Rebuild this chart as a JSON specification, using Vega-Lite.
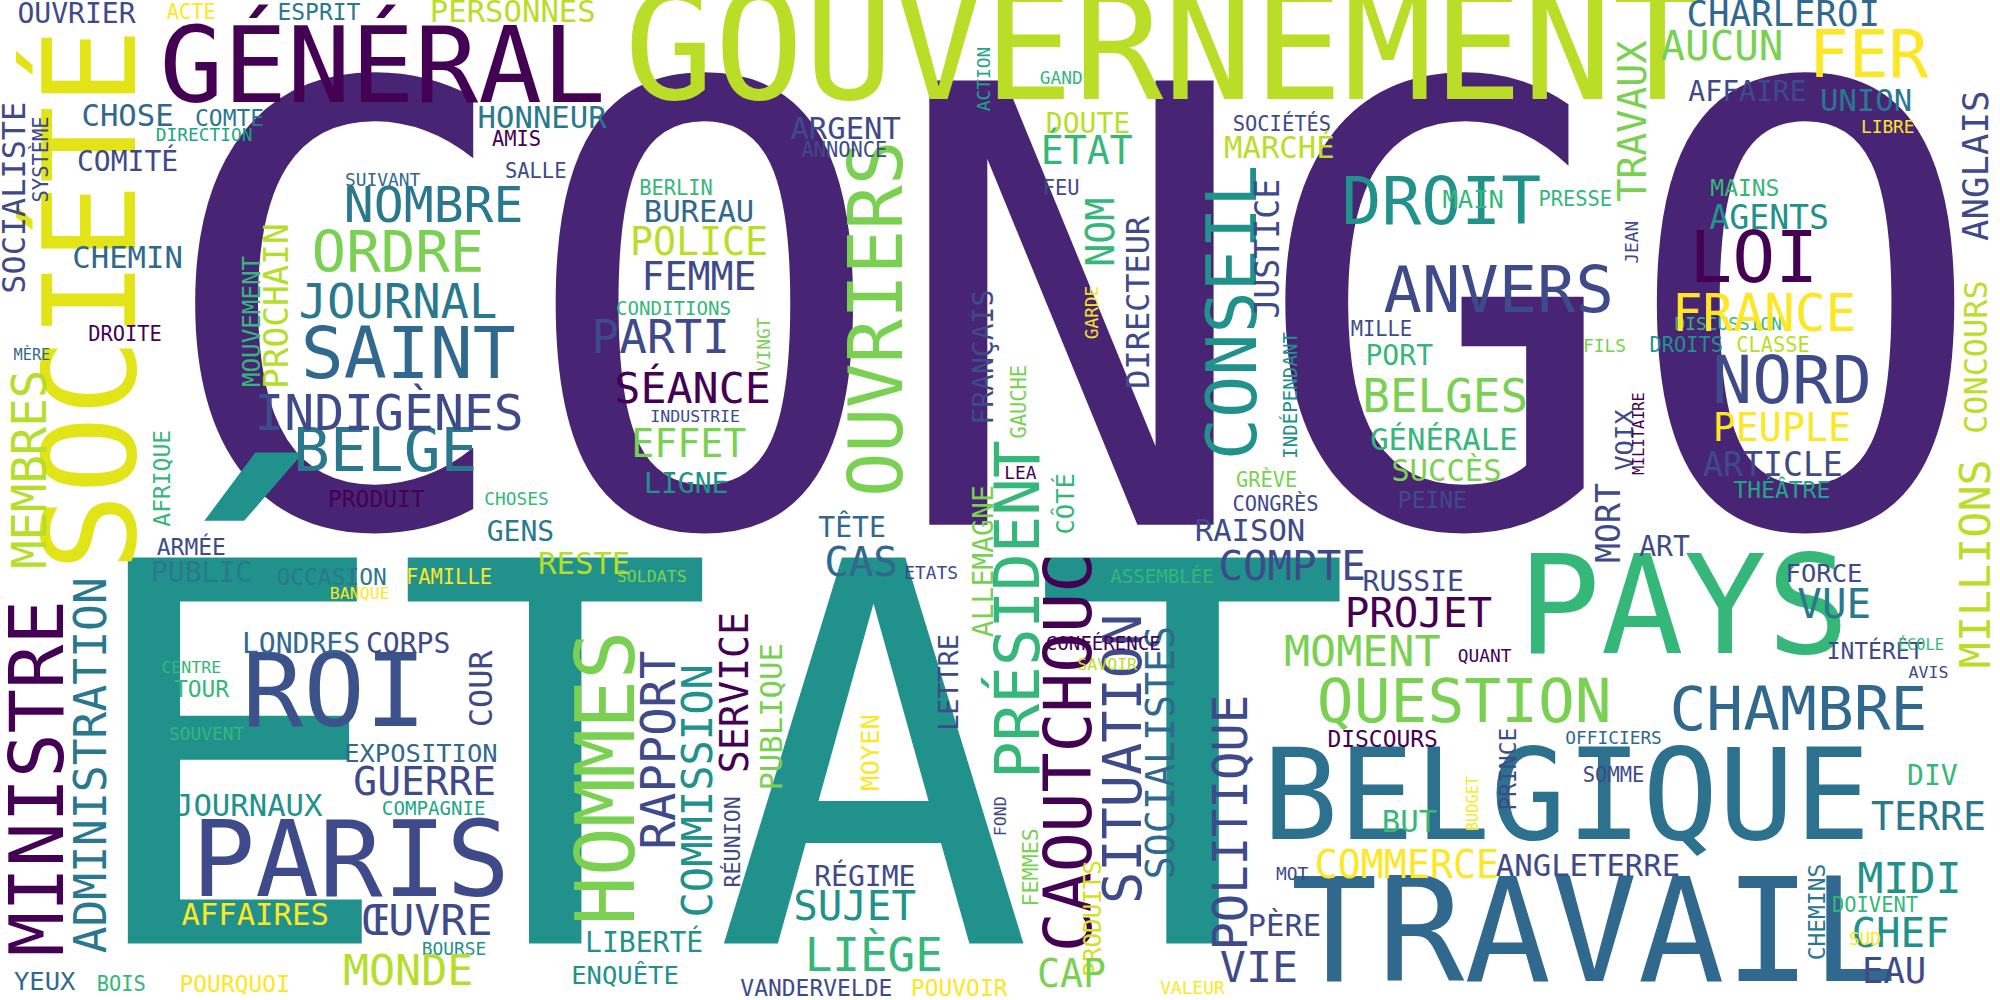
{
  "$schema": "https://vega.github.io/schema/vega-lite/v6.json",
  "width": 2000,
  "height": 1000,
  "autosize": "none",
  "padding": 0,
  "background": "white",
  "config": {"view": {"stroke": null}},
  "data": {
    "values": [
      {"w": "CONGO", "x": 840, "y": 268, "s": 478, "a": 0, "c": "#482475"},
      {"w": "ÉTAT", "x": 560, "y": 615, "s": 415, "a": 0, "c": "#21918c"},
      {"w": "GOUVERNEMENT", "x": 912, "y": 42, "s": 117, "a": 0, "c": "#bade28"},
      {"w": "GÉNÉRAL", "x": 300, "y": 55, "s": 83, "a": 0, "c": "#440154"},
      {"w": "SOCIÉTÉ", "x": 75, "y": 235, "s": 101, "a": 270, "c": "#e2e418"},
      {"w": "PAYS", "x": 1320, "y": 480, "s": 108, "a": 0, "c": "#35b779"},
      {"w": "TRAVAIL", "x": 1250, "y": 735, "s": 113, "a": 0, "c": "#31688e"},
      {"w": "BELGIQUE", "x": 1228, "y": 628, "s": 99, "a": 0, "c": "#2c728e"},
      {"w": "ROI", "x": 262, "y": 545, "s": 80, "a": 0, "c": "#3b528b"},
      {"w": "PARIS", "x": 275, "y": 677, "s": 83, "a": 0, "c": "#3e4a89"},
      {"w": "MINISTRE", "x": 32, "y": 610, "s": 58, "a": 270, "c": "#440154"},
      {"w": "ADMINISTRATION", "x": 73, "y": 600, "s": 35, "a": 270, "c": "#2a788e"},
      {"w": "SAINT", "x": 320, "y": 280, "s": 56, "a": 0, "c": "#31688e"},
      {"w": "BELGE", "x": 302, "y": 355, "s": 48, "a": 0, "c": "#2a788e"},
      {"w": "ORDRE", "x": 312, "y": 200, "s": 45, "a": 0, "c": "#7ad151"},
      {"w": "INDIGÈNES", "x": 305, "y": 325, "s": 39, "a": 0, "c": "#3e4a89"},
      {"w": "JOURNAL", "x": 312, "y": 238, "s": 37, "a": 0, "c": "#2a788e"},
      {"w": "NOMBRE", "x": 340, "y": 162, "s": 39, "a": 0, "c": "#2a788e"},
      {"w": "HONNEUR", "x": 425, "y": 93, "s": 24, "a": 0, "c": "#2a788e"},
      {"w": "AMIS", "x": 405, "y": 110, "s": 16, "a": 0, "c": "#440154"},
      {"w": "SALLE", "x": 420, "y": 135, "s": 16, "a": 0, "c": "#3e4a89"},
      {"w": "SUIVANT", "x": 300, "y": 142, "s": 14, "a": 0, "c": "#31688e"},
      {"w": "PROCHAIN", "x": 218, "y": 240, "s": 27, "a": 270, "c": "#b5de2b"},
      {"w": "MOUVEMENT", "x": 198, "y": 252, "s": 19, "a": 270, "c": "#35b779"},
      {"w": "CHOSE", "x": 100, "y": 92, "s": 24, "a": 0, "c": "#31688e"},
      {"w": "COMTE", "x": 180, "y": 93, "s": 18, "a": 0, "c": "#2a788e"},
      {"w": "DIRECTION", "x": 160, "y": 107, "s": 14, "a": 0, "c": "#21a685"},
      {"w": "COMITÉ", "x": 100, "y": 128, "s": 22, "a": 0, "c": "#3e4a89"},
      {"w": "SOCIALISTE", "x": 12, "y": 155, "s": 25, "a": 270, "c": "#3e4a89"},
      {"w": "SYSTÈME", "x": 33, "y": 125, "s": 16, "a": 270, "c": "#3e4a89"},
      {"w": "OUVRIER", "x": 60, "y": 12, "s": 22, "a": 0, "c": "#3e4a89"},
      {"w": "ACTE", "x": 150, "y": 10, "s": 16, "a": 0, "c": "#fde725"},
      {"w": "ESPRIT", "x": 250, "y": 10, "s": 18, "a": 0, "c": "#2a788e"},
      {"w": "PERSONNES", "x": 402, "y": 10, "s": 24, "a": 0, "c": "#bade28"},
      {"w": "CHEMIN", "x": 100, "y": 203, "s": 24, "a": 0, "c": "#31688e"},
      {"w": "DROITE", "x": 98, "y": 263, "s": 16, "a": 0, "c": "#440154"},
      {"w": "MÈRE", "x": 25, "y": 278, "s": 12, "a": 0, "c": "#31688e"},
      {"w": "MEMBRES", "x": 25, "y": 368, "s": 37, "a": 270, "c": "#b5de2b"},
      {"w": "AFRIQUE", "x": 128, "y": 375, "s": 18, "a": 270, "c": "#35b779"},
      {"w": "PRODUIT", "x": 295, "y": 392, "s": 18, "a": 0, "c": "#440154"},
      {"w": "CHOSES", "x": 405, "y": 392, "s": 14, "a": 0, "c": "#35b779"},
      {"w": "ARMÉE", "x": 150, "y": 430, "s": 18, "a": 0, "c": "#3e4a89"},
      {"w": "GENS", "x": 408, "y": 418, "s": 22, "a": 0, "c": "#2a788e"},
      {"w": "RESTE", "x": 458, "y": 443, "s": 24, "a": 0, "c": "#b5de2b"},
      {"w": "PUBLIC", "x": 158, "y": 450, "s": 22, "a": 0, "c": "#2a788e"},
      {"w": "OCCASION", "x": 260, "y": 453, "s": 18, "a": 0, "c": "#2a788e"},
      {"w": "FAMILLE", "x": 352, "y": 453, "s": 16, "a": 0, "c": "#fde725"},
      {"w": "BANQUE", "x": 282, "y": 466, "s": 13, "a": 0, "c": "#fde725"},
      {"w": "LONDRES", "x": 236, "y": 506, "s": 22, "a": 0, "c": "#31688e"},
      {"w": "CORPS", "x": 320, "y": 506, "s": 22, "a": 0, "c": "#3e4a89"},
      {"w": "CENTRE", "x": 150, "y": 524, "s": 13, "a": 0, "c": "#35b779"},
      {"w": "TOUR", "x": 158, "y": 541, "s": 18, "a": 0, "c": "#35b779"},
      {"w": "COUR", "x": 378, "y": 540, "s": 25, "a": 270, "c": "#3e4a89"},
      {"w": "SOUVENT", "x": 162, "y": 576, "s": 14, "a": 0, "c": "#35b779"},
      {"w": "EXPOSITION", "x": 330, "y": 591, "s": 20, "a": 0, "c": "#31688e"},
      {"w": "GUERRE", "x": 333, "y": 614, "s": 31, "a": 0, "c": "#3e4a89"},
      {"w": "COMPAGNIE", "x": 340, "y": 634, "s": 15, "a": 0, "c": "#21a685"},
      {"w": "JOURNAUX", "x": 195, "y": 633, "s": 24, "a": 0, "c": "#21918c"},
      {"w": "AFFAIRES", "x": 200, "y": 718, "s": 24, "a": 0, "c": "#fde725"},
      {"w": "ŒUVRE", "x": 335, "y": 723, "s": 34, "a": 0, "c": "#3e4a89"},
      {"w": "BOURSE", "x": 356, "y": 745, "s": 14, "a": 0, "c": "#21918c"},
      {"w": "MONDE", "x": 320, "y": 762, "s": 34, "a": 0, "c": "#b5de2b"},
      {"w": "YEUX", "x": 35, "y": 770, "s": 20, "a": 0, "c": "#31688e"},
      {"w": "BOIS", "x": 95, "y": 772, "s": 16, "a": 0, "c": "#35b779"},
      {"w": "POURQUOI", "x": 184, "y": 772, "s": 18, "a": 0, "c": "#fde725"},
      {"w": "HOMMES", "x": 478, "y": 610, "s": 64, "a": 270, "c": "#7ad151"},
      {"w": "RAPPORT", "x": 518, "y": 588, "s": 37, "a": 270, "c": "#3e4a89"},
      {"w": "COMMISSION", "x": 548, "y": 620, "s": 33, "a": 270, "c": "#21918c"},
      {"w": "SERVICE", "x": 578, "y": 543, "s": 30, "a": 270, "c": "#440154"},
      {"w": "PUBLIQUE", "x": 606, "y": 562, "s": 24, "a": 270, "c": "#7ad151"},
      {"w": "RÉUNION", "x": 575, "y": 660, "s": 17, "a": 270, "c": "#3e4a89"},
      {"w": "LIBERTÉ", "x": 505, "y": 740, "s": 22, "a": 0, "c": "#21918c"},
      {"w": "ENQUÊTE", "x": 490, "y": 765, "s": 20, "a": 0, "c": "#21918c"},
      {"w": "VANDERVELDE", "x": 640, "y": 775, "s": 18, "a": 0, "c": "#3e4a89"},
      {"w": "POUVOIR", "x": 752, "y": 775, "s": 18, "a": 0, "c": "#fde725"},
      {"w": "LIÈGE", "x": 685, "y": 750, "s": 36, "a": 0, "c": "#35b779"},
      {"w": "SUJET", "x": 670, "y": 712, "s": 32, "a": 0, "c": "#21918c"},
      {"w": "RÉGIME", "x": 678, "y": 688, "s": 22, "a": 0, "c": "#3e4a89"},
      {"w": "MOYEN", "x": 683, "y": 590, "s": 20, "a": 270, "c": "#fde725"},
      {"w": "LETTRE", "x": 745, "y": 535, "s": 21, "a": 270, "c": "#3e4a89"},
      {"w": "CAS", "x": 675, "y": 442, "s": 32, "a": 0, "c": "#31688e"},
      {"w": "TÊTE", "x": 668, "y": 415, "s": 22, "a": 0, "c": "#31688e"},
      {"w": "ETATS", "x": 730, "y": 450, "s": 14, "a": 0, "c": "#3e4a89"},
      {"w": "ALLEMAGNE", "x": 772, "y": 440, "s": 22, "a": 270, "c": "#7ad151"},
      {"w": "FRANÇAIS", "x": 772, "y": 280, "s": 22, "a": 270, "c": "#3e4a89"},
      {"w": "PRÉSIDENT", "x": 800, "y": 478, "s": 49, "a": 270, "c": "#35b779"},
      {"w": "CAOUTCHOUC", "x": 840, "y": 590, "s": 52, "a": 270, "c": "#440154"},
      {"w": "SITUATION", "x": 882, "y": 595, "s": 42, "a": 270, "c": "#3e4a89"},
      {"w": "SOCIALISTES", "x": 912, "y": 590, "s": 30, "a": 270, "c": "#31688e"},
      {"w": "FEMMES", "x": 808, "y": 680, "s": 17, "a": 270, "c": "#7ad151"},
      {"w": "PRODUITS", "x": 858, "y": 720, "s": 19, "a": 270, "c": "#d2e21b"},
      {"w": "FOND", "x": 785, "y": 640, "s": 13, "a": 270, "c": "#3e4a89"},
      {"w": "CAP", "x": 840, "y": 765, "s": 30, "a": 0, "c": "#7ad151"},
      {"w": "VALEUR", "x": 935, "y": 775, "s": 14, "a": 0, "c": "#fde725"},
      {"w": "CÔTÉ", "x": 836, "y": 395, "s": 20, "a": 270, "c": "#35b779"},
      {"w": "GAUCHE", "x": 800, "y": 315, "s": 16, "a": 270, "c": "#7ad151"},
      {"w": "LEA", "x": 800, "y": 372, "s": 14, "a": 0, "c": "#440154"},
      {"w": "GARDE", "x": 857, "y": 245, "s": 14, "a": 270, "c": "#fde725"},
      {"w": "DIRECTEUR", "x": 893, "y": 237, "s": 25, "a": 270, "c": "#3e4a89"},
      {"w": "NOM", "x": 865, "y": 182, "s": 30, "a": 270, "c": "#35b779"},
      {"w": "DOUTE", "x": 853, "y": 98, "s": 22, "a": 0, "c": "#bade28"},
      {"w": "ÉTAT", "x": 852, "y": 120, "s": 30, "a": 0, "c": "#35b779"},
      {"w": "FEU", "x": 832, "y": 148, "s": 16, "a": 0, "c": "#3e4a89"},
      {"w": "ACTION", "x": 772, "y": 62, "s": 14, "a": 270, "c": "#21a685"},
      {"w": "GAND", "x": 832, "y": 62, "s": 14, "a": 0, "c": "#35b779"},
      {"w": "OUVRIERS", "x": 690, "y": 250, "s": 58, "a": 270, "c": "#7ad151"},
      {"w": "ARGENT", "x": 663, "y": 102, "s": 24, "a": 0, "c": "#3e4a89"},
      {"w": "ANNONCE", "x": 662, "y": 118, "s": 16, "a": 0, "c": "#3e4a89"},
      {"w": "BERLIN", "x": 530, "y": 148, "s": 16, "a": 0, "c": "#35b779"},
      {"w": "BUREAU", "x": 548, "y": 167, "s": 24, "a": 0, "c": "#31688e"},
      {"w": "POLICE", "x": 548, "y": 191, "s": 30, "a": 0, "c": "#bade28"},
      {"w": "FEMME", "x": 548, "y": 219, "s": 30, "a": 0, "c": "#3e4a89"},
      {"w": "CONDITIONS", "x": 528, "y": 242, "s": 15, "a": 0, "c": "#35b779"},
      {"w": "VINGT", "x": 600, "y": 270, "s": 14, "a": 270, "c": "#7ad151"},
      {"w": "PARTI", "x": 518, "y": 266, "s": 36, "a": 0, "c": "#3e4a89"},
      {"w": "SÉANCE", "x": 543, "y": 306, "s": 34, "a": 0, "c": "#440154"},
      {"w": "INDUSTRIE", "x": 545, "y": 327, "s": 13, "a": 0, "c": "#3e4a89"},
      {"w": "EFFET", "x": 540, "y": 350, "s": 30, "a": 0, "c": "#7ad151"},
      {"w": "LIGNE", "x": 538, "y": 380, "s": 22, "a": 0, "c": "#21918c"},
      {"w": "CONSEIL", "x": 968, "y": 245, "s": 55, "a": 270, "c": "#21918c"},
      {"w": "JUSTICE", "x": 995, "y": 195, "s": 26, "a": 270, "c": "#3e4a89"},
      {"w": "INDÉPENDANT", "x": 1012, "y": 310, "s": 15, "a": 270, "c": "#21918c"},
      {"w": "CONGRÈS", "x": 1000, "y": 396, "s": 16, "a": 0, "c": "#3e4a89"},
      {"w": "GRÈVE", "x": 993, "y": 377, "s": 16, "a": 0, "c": "#7ad151"},
      {"w": "RAISON", "x": 980, "y": 417, "s": 24, "a": 0, "c": "#3e4a89"},
      {"w": "COMPTE", "x": 1013, "y": 445, "s": 32, "a": 0, "c": "#3e4a89"},
      {"w": "ASSEMBLÉE", "x": 911, "y": 452, "s": 15, "a": 0, "c": "#35b779"},
      {"w": "SOLDATS", "x": 511, "y": 452, "s": 13, "a": 0, "c": "#7ad151"},
      {"w": "DROIT", "x": 1130, "y": 160, "s": 52, "a": 0, "c": "#21918c"},
      {"w": "ANVERS", "x": 1175, "y": 230, "s": 50, "a": 0, "c": "#3e4a89"},
      {"w": "SOCIÉTÉS", "x": 1005, "y": 98, "s": 16, "a": 0, "c": "#3e4a89"},
      {"w": "MARCHÉ", "x": 1003, "y": 117, "s": 24, "a": 0, "c": "#bade28"},
      {"w": "MAIN", "x": 1155, "y": 157, "s": 20, "a": 0, "c": "#35b779"},
      {"w": "PRESSE", "x": 1235, "y": 157, "s": 16, "a": 0, "c": "#35b779"},
      {"w": "MILLE", "x": 1083, "y": 259, "s": 16, "a": 0, "c": "#3e4a89"},
      {"w": "PORT", "x": 1097, "y": 280, "s": 22, "a": 0, "c": "#35b779"},
      {"w": "BELGES", "x": 1133, "y": 312, "s": 36, "a": 0, "c": "#7ad151"},
      {"w": "GÉNÉRALE", "x": 1132, "y": 346, "s": 24, "a": 0, "c": "#35b779"},
      {"w": "SUCCÈS", "x": 1134, "y": 370, "s": 24, "a": 0, "c": "#7ad151"},
      {"w": "PEINE", "x": 1123, "y": 393, "s": 18, "a": 0, "c": "#3e4a89"},
      {"w": "MORT", "x": 1262, "y": 410, "s": 26, "a": 270, "c": "#3e4a89"},
      {"w": "VOIX", "x": 1274, "y": 345, "s": 20, "a": 270, "c": "#3e4a89"},
      {"w": "MILITAIRE", "x": 1285, "y": 340, "s": 12, "a": 270, "c": "#440154"},
      {"w": "JEAN", "x": 1280, "y": 190, "s": 14, "a": 270, "c": "#3e4a89"},
      {"w": "LOI", "x": 1375, "y": 205, "s": 56, "a": 0, "c": "#440154"},
      {"w": "AGENTS", "x": 1387, "y": 172, "s": 26, "a": 0, "c": "#21918c"},
      {"w": "MAINS", "x": 1368, "y": 148, "s": 18, "a": 0, "c": "#35b779"},
      {"w": "DISCUSSION", "x": 1355, "y": 255, "s": 14, "a": 0, "c": "#35b779"},
      {"w": "FRANCE", "x": 1383, "y": 248, "s": 40, "a": 0, "c": "#fde725"},
      {"w": "NORD", "x": 1405, "y": 300, "s": 52, "a": 0, "c": "#3e4a89"},
      {"w": "PEUPLE", "x": 1397, "y": 337, "s": 30, "a": 0, "c": "#fde725"},
      {"w": "ARTICLE", "x": 1390, "y": 365, "s": 26, "a": 0, "c": "#3e4a89"},
      {"w": "THÉÂTRE", "x": 1397, "y": 385, "s": 18, "a": 0, "c": "#21a685"},
      {"w": "DROITS", "x": 1322, "y": 271, "s": 16, "a": 0, "c": "#21918c"},
      {"w": "CLASSE", "x": 1390, "y": 271, "s": 16, "a": 0, "c": "#bade28"},
      {"w": "FILS", "x": 1258, "y": 272, "s": 14, "a": 0, "c": "#7ad151"},
      {"w": "TRAVAUX", "x": 1282, "y": 95, "s": 30, "a": 270, "c": "#7ad151"},
      {"w": "AUCUN", "x": 1350, "y": 38, "s": 32, "a": 0, "c": "#7ad151"},
      {"w": "FER", "x": 1465, "y": 45, "s": 52, "a": 0, "c": "#fde725"},
      {"w": "CHARLEROI", "x": 1398, "y": 12, "s": 28, "a": 0, "c": "#31688e"},
      {"w": "AFFAIRE", "x": 1370, "y": 73, "s": 22, "a": 0, "c": "#3e4a89"},
      {"w": "UNION", "x": 1463, "y": 80, "s": 24, "a": 0, "c": "#2a788e"},
      {"w": "LIBRE", "x": 1480, "y": 100, "s": 14, "a": 0, "c": "#fde725"},
      {"w": "ANGLAIS", "x": 1550, "y": 130, "s": 28, "a": 270, "c": "#3e4a89"},
      {"w": "CONCOURS", "x": 1550, "y": 280, "s": 25, "a": 270, "c": "#bade28"},
      {"w": "MILLIONS", "x": 1550, "y": 442, "s": 34, "a": 270, "c": "#bade28"},
      {"w": "FORCE", "x": 1430, "y": 450, "s": 20, "a": 0, "c": "#3e4a89"},
      {"w": "VUE", "x": 1438, "y": 475, "s": 32, "a": 0, "c": "#2a788e"},
      {"w": "INTÉRÊT", "x": 1470, "y": 511, "s": 18, "a": 0, "c": "#3e4a89"},
      {"w": "AVIS", "x": 1512, "y": 528, "s": 13, "a": 0, "c": "#3e4a89"},
      {"w": "ÉCOLE", "x": 1506, "y": 506, "s": 12, "a": 0, "c": "#35b779"},
      {"w": "CHAMBRE", "x": 1410, "y": 558, "s": 48, "a": 0, "c": "#31688e"},
      {"w": "RUSSIE", "x": 1108, "y": 457, "s": 22, "a": 0, "c": "#3e4a89"},
      {"w": "PROJET", "x": 1112, "y": 482, "s": 32, "a": 0, "c": "#440154"},
      {"w": "MOMENT", "x": 1068, "y": 512, "s": 34, "a": 0, "c": "#7ad151"},
      {"w": "QUANT", "x": 1164, "y": 515, "s": 14, "a": 0, "c": "#440154"},
      {"w": "QUESTION", "x": 1148, "y": 552, "s": 48, "a": 0, "c": "#7ad151"},
      {"w": "ART", "x": 1305, "y": 430, "s": 22, "a": 0, "c": "#3e4a89"},
      {"w": "POLITIQUE", "x": 967, "y": 645, "s": 37, "a": 270, "c": "#3e4a89"},
      {"w": "DISCOURS", "x": 1084, "y": 580, "s": 18, "a": 0, "c": "#440154"},
      {"w": "PRINCE", "x": 1183, "y": 603, "s": 18, "a": 270, "c": "#3e4a89"},
      {"w": "OFFICIERS", "x": 1265, "y": 579, "s": 14, "a": 0, "c": "#31688e"},
      {"w": "SOMME", "x": 1265, "y": 608, "s": 16, "a": 0, "c": "#3e4a89"},
      {"w": "BUDGET", "x": 1155, "y": 630, "s": 12, "a": 270, "c": "#fde725"},
      {"w": "BUT", "x": 1105, "y": 645, "s": 24, "a": 0, "c": "#35b779"},
      {"w": "COMMERCE", "x": 1103, "y": 680, "s": 30, "a": 0, "c": "#fde725"},
      {"w": "ANGLETERRE", "x": 1245, "y": 680, "s": 24, "a": 0, "c": "#3e4a89"},
      {"w": "MOT", "x": 1013, "y": 686, "s": 14, "a": 0, "c": "#3e4a89"},
      {"w": "PÈRE", "x": 1007, "y": 727, "s": 24, "a": 0, "c": "#3e4a89"},
      {"w": "VIE", "x": 987, "y": 760, "s": 34, "a": 0, "c": "#3e4a89"},
      {"w": "CHEMINS", "x": 1425, "y": 715, "s": 18, "a": 270, "c": "#2a788e"},
      {"w": "DIV", "x": 1515, "y": 609, "s": 22, "a": 0, "c": "#35b779"},
      {"w": "TERRE", "x": 1512, "y": 642, "s": 30, "a": 0, "c": "#2a788e"},
      {"w": "MIDI", "x": 1497, "y": 690, "s": 34, "a": 0, "c": "#21918c"},
      {"w": "DOIVENT", "x": 1470, "y": 710, "s": 16, "a": 0, "c": "#35b779"},
      {"w": "CHEF", "x": 1490, "y": 733, "s": 32, "a": 0, "c": "#21918c"},
      {"w": "SUD", "x": 1462, "y": 737, "s": 14, "a": 0, "c": "#fde725"},
      {"w": "EAU", "x": 1485, "y": 762, "s": 28, "a": 0, "c": "#3e4a89"},
      {"w": "CONFÉRENCE", "x": 865, "y": 505, "s": 15, "a": 0, "c": "#440154"},
      {"w": "SAVOIR", "x": 868, "y": 521, "s": 13, "a": 0, "c": "#bade28"}
    ]
  },
  "mark": {"type": "text", "font": "DejaVu Sans Mono", "align": "center", "baseline": "middle"},
  "encoding": {
    "x": {"field": "x", "type": "quantitative", "scale": {"domain": [0, 1568]}, "axis": null},
    "y": {"field": "y", "type": "quantitative", "scale": {"domain": [0, 784], "reverse": true}, "axis": null},
    "text": {"field": "w"},
    "size": {"field": "s", "type": "quantitative", "scale": {"type": "linear", "domain": [0, 100], "range": [0, 127.55]}, "legend": null},
    "angle": {"field": "a", "type": "quantitative", "scale": null},
    "color": {"field": "c", "type": "nominal", "scale": null}
  }
}
